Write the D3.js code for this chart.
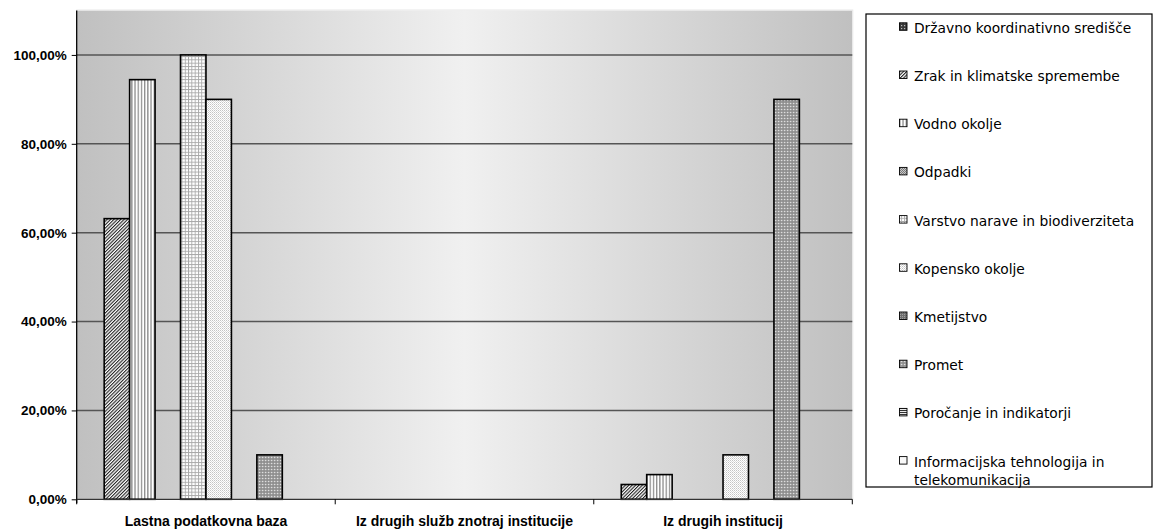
<!DOCTYPE html>
<html>
<head>
<meta charset="utf-8">
<script src="https://cdnjs.cloudflare.com/ajax/libs/d3/7.8.5/d3.min.js"></script>
<style>
  html, body { margin: 0; padding: 0; background: #fff; }
  svg { display: block; }
</style>
</head>
<body>
<svg id="chart" width="1159" height="530"></svg>
<script>
// Categories (x axis groups)
const categories = [
  "Lastna podatkovna baza",
  "Iz drugih služb znotraj institucije",
  "Iz drugih institucij"
];

// Series names (legend order)
const seriesNames = [
  "Državno koordinativno središče",
  "Zrak in klimatske spremembe",
  "Vodno okolje",
  "Odpadki",
  "Varstvo narave in biodiverziteta",
  "Kopensko okolje",
  "Kmetijstvo",
  "Promet",
  "Poročanje in indikatorji",
  "Informacijska tehnologija in telekomunikacija"
];

// Shares per series, one value for each category
const drzavno        = [0,      0, 0];
const zrak           = [0.6316, 0, 0.0333];
const vodno          = [0.9444, 0, 0.0556];
const odpadki        = [0,      0, 0];
const varstvo        = [1.0,    0, 0];
const kopensko       = [0.9,    0, 0.1];
const kmetijstvo     = [0,      0, 0];
const promet         = [0.1,    0, 0.9];
const porocanje      = [0,      0, 0];
const informacijska  = [0,      0, 0];

const seriesValues = [drzavno, zrak, vodno, odpadki, varstvo, kopensko,
                      kmetijstvo, promet, porocanje, informacijska];

// Y axis ticks
const yTicks = [0, 0.2, 0.4, 0.6, 0.8, 1.0];
const yTickLabels = ["0,00%", "20,00%", "40,00%", "60,00%", "80,00%", "100,00%"];

const svg = d3.select("#chart");
const defs = svg.append("defs");

// Plot area
const plot = { left: 76.7, right: 852.3, top: 10.5, bottom: 499.3 };

// Background gradient of the plot area
const grad = defs.append("linearGradient").attr("id", "plotBg")
  .attr("x1", "0%").attr("x2", "100%").attr("y1", "0%").attr("y2", "0%");
grad.append("stop").attr("offset", "0%").attr("stop-color", "#c0c0c0");
grad.append("stop").attr("offset", "50%").attr("stop-color", "#f0f0f0");
grad.append("stop").attr("offset", "100%").attr("stop-color", "#c0c0c0");

// Fill patterns, one per series
function pattern(id, w, h, bg, draw, transform) {
  const p = defs.append("pattern").attr("id", id)
    .attr("patternUnits", "userSpaceOnUse")
    .attr("width", w).attr("height", h);
  if (transform) p.attr("patternTransform", transform);
  p.append("rect").attr("width", w).attr("height", h).attr("fill", bg);
  draw(p);
  return "url(#" + id + ")";
}
const fills = [
  // dark grid
  pattern("p0", 3, 3, "#3a3a3a", p => {
    p.append("rect").attr("x", 1).attr("y", 1).attr("width", 1.2).attr("height", 1.2).attr("fill", "#bdbdbd");
  }),
  // diagonal hatch
  pattern("p1", 2.4, 2.4, "#ffffff", p => {
    p.append("rect").attr("x", 0).attr("y", 0).attr("width", 1.1).attr("height", 2.4).attr("fill", "#222");
  }, "rotate(45)"),
  // vertical stripes
  pattern("p2", 3.2, 3, "#ffffff", p => {
    p.append("rect").attr("x", 0).attr("y", 0).attr("width", 1.3).attr("height", 3).attr("fill", "#8c8c8c");
  }),
  // grey dots
  pattern("p3", 2, 2, "#c8c8c8", p => {
    p.append("rect").attr("x", 0).attr("y", 0).attr("width", 1).attr("height", 1).attr("fill", "#7a7a7a");
    p.append("rect").attr("x", 1).attr("y", 1).attr("width", 1).attr("height", 1).attr("fill", "#7a7a7a");
  }),
  // light grid
  pattern("p4", 3.3, 3.3, "#ffffff", p => {
    p.append("rect").attr("x", 0).attr("y", 0).attr("width", 3.3).attr("height", 0.9).attr("fill", "#a8a8a8");
    p.append("rect").attr("x", 0).attr("y", 0).attr("width", 0.9).attr("height", 3.3).attr("fill", "#a8a8a8");
  }),
  // fine light dots
  pattern("p5", 2, 2, "#ffffff", p => {
    p.append("rect").attr("x", 0).attr("y", 0).attr("width", 1).attr("height", 1).attr("fill", "#c4c4c4");
    p.append("rect").attr("x", 1).attr("y", 1).attr("width", 1).attr("height", 1).attr("fill", "#dcdcdc");
  }),
  // dark dots
  pattern("p6", 2, 2, "#6e6e6e", p => {
    p.append("rect").attr("x", 0).attr("y", 0).attr("width", 1).attr("height", 1).attr("fill", "#a0a0a0");
  }),
  // checkered grey
  pattern("p7", 3, 3, "#8c8c8c", p => {
    p.append("rect").attr("x", 0.8).attr("y", 0.8).attr("width", 1.6).attr("height", 1.4).attr("fill", "#dedede");
  }),
  // horizontal stripes
  pattern("p8", 2, 2, "#ffffff", p => {
    p.append("rect").attr("x", 0).attr("y", 0).attr("width", 2).attr("height", 1.1).attr("fill", "#333");
  }),
  // plain light
  pattern("p9", 2, 2, "#f8f8f8", p => {})
];

// Scales
const x0 = d3.scaleBand().domain(categories)
  .range([plot.left, plot.right]).paddingInner(0).paddingOuter(0);
const x1 = d3.scaleBand().domain(d3.range(seriesNames.length))
  .range([0, x0.bandwidth()]).paddingInner(0).paddingOuter(0.08);
const y = d3.scaleLinear().domain([0, 1.1]).range([plot.bottom, plot.top]);

// Plot background
svg.append("rect")
  .attr("x", plot.left).attr("y", plot.top)
  .attr("width", plot.right - plot.left).attr("height", plot.bottom - plot.top)
  .attr("fill", "url(#plotBg)");
svg.append("rect")
  .attr("x", plot.left).attr("y", plot.top - 0.5)
  .attr("width", plot.right - plot.left + 0.5).attr("height", plot.bottom - plot.top + 0.5)
  .attr("fill", "none").attr("stroke", "#e8e8e8").attr("stroke-width", 1);

// Horizontal gridlines
svg.append("g").selectAll("line")
  .data(yTicks.filter(d => d > 0))
  .join("line")
  .attr("x1", plot.left).attr("x2", plot.right)
  .attr("y1", d => y(d)).attr("y2", d => y(d))
  .attr("stroke", "#555").attr("stroke-width", 1.5);

// Bars
const rows = [];
categories.forEach((c, ci) => {
  seriesValues.forEach((vals, si) => {
    if (vals[ci] > 0) rows.push({ c, si, v: vals[ci] });
  });
});
svg.append("g").selectAll("rect")
  .data(rows)
  .join("rect")
  .attr("x", d => x0(d.c) + x1(d.si))
  .attr("y", d => y(d.v))
  .attr("width", x1.bandwidth())
  .attr("height", d => y(0) - y(d.v))
  .attr("fill", d => fills[d.si])
  .attr("stroke", "#000").attr("stroke-width", 1.6);

// Y axis
const yAxis = d3.axisLeft(y).tickValues(yTicks)
  .tickFormat((d, i) => yTickLabels[i]).tickSize(5).tickPadding(5);
const gy = svg.append("g").attr("transform", `translate(${plot.left},0)`).call(yAxis);
gy.select(".domain").attr("d", `M0,${plot.top}V${plot.bottom + 4}`).attr("stroke", "#000").attr("stroke-width", 1.3);
gy.selectAll(".tick line").attr("stroke", "#000");
gy.selectAll("text")
  .attr("font-family", "'Liberation Sans', Arial, sans-serif")
  .attr("font-weight", "bold").attr("font-size", 13.5).attr("fill", "#000");

// X axis
const gx = svg.append("g").attr("transform", `translate(0,${plot.bottom})`);
gx.append("line").attr("x1", plot.left).attr("x2", plot.right)
  .attr("stroke", "#333").attr("stroke-width", 1.3);
const boundaries = categories.map(c => x0(c)).concat([plot.right]);
gx.selectAll("line.tk").data(boundaries).join("line").attr("class", "tk")
  .attr("x1", d => d).attr("x2", d => d).attr("y1", 0).attr("y2", 5)
  .attr("stroke", "#000").attr("stroke-width", 1);
gx.selectAll("text").data(categories).join("text")
  .attr("x", d => x0(d) + x0.bandwidth() / 2)
  .attr("y", 27)
  .attr("text-anchor", "middle")
  .attr("font-family", "'Liberation Sans', Arial, sans-serif")
  .attr("font-weight", "bold").attr("font-size", 14).attr("fill", "#000")
  .text(d => d);

// Legend
const legend = { left: 866, top: 14, right: 1152, bottom: 487 };
svg.append("rect")
  .attr("x", legend.left).attr("y", legend.top)
  .attr("width", legend.right - legend.left).attr("height", legend.bottom - legend.top)
  .attr("fill", "#fff").attr("stroke", "#000").attr("stroke-width", 1.2);

const legendFont = "'Comic Sans MS', 'DejaVu Sans', sans-serif";
const lg = svg.append("g");
seriesNames.forEach((name, i) => {
  const cy = 28.3 + i * 48.2;
  lg.append("rect")
    .attr("x", 899.5).attr("y", cy - 5.5)
    .attr("width", 7.5).attr("height", 7.5)
    .attr("fill", fills[i]).attr("stroke", "#000").attr("stroke-width", 0.9);
  const lines = name === "Informacijska tehnologija in telekomunikacija"
    ? ["Informacijska tehnologija in", "telekomunikacija"] : [name];
  lines.forEach((ln, k) => {
    lg.append("text")
      .attr("x", 914).attr("y", cy + 4.5 + k * 18)
      .attr("font-family", legendFont).attr("font-size", 13.8).attr("fill", "#000")
      .text(ln);
  });
});
</script>
</body>
</html>
